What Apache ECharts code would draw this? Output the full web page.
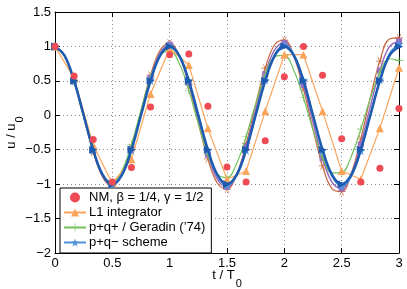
<!DOCTYPE html>
<html>
<head>
<meta charset="utf-8">
<script src="https://cdn.jsdelivr.net/npm/echarts@6/dist/echarts.min.js"></script>
<style>
html,body{margin:0;padding:0;background:#fff;}
#chart{width:407px;height:289px;}
</style>
</head>
<body>
<div id="chart"></div>
<script>
// time at every step (h = T0/6)
var tStep = [0,0.1667,0.3333,0.5,0.6667,0.8333,1,1.1667,1.3333,1.5,1.6667,1.8333,2,2.1667,2.3333,2.5,2.6667,2.8333,3];
// time at half steps, for the continuous curves
var tFine = [0,0.0833,0.1667,0.25,0.3333,0.4167,0.5,0.5833,0.6667,0.75,0.8333,0.9167,1,1.0833,1.1667,1.25,1.3333,1.4167,1.5,1.5833,1.6667,1.75,1.8333,1.9167,2,2.0833,2.1667,2.25,2.3333,2.4167,2.5,2.5833,2.6667,2.75,2.8333,2.9167,3];

var xTicks = [0,0.5,1,1.5,2,2.5,3];
var yTicks = [-2,-1.5,-1,-0.5,0,0.5,1,1.5];

// NM, beta=1/4, gamma=1/2 (step values)
var nmValues = [1,0.57,-0.35,-0.97,-0.76,0.12,0.88,0.89,0.13,-0.75,-0.97,-0.37,0.56,1.0,0.58,-0.34,-0.97,-0.77,0.10];
// L1 integrator (step values)
var l1Values = [1,0.54,-0.43,-0.99,-0.64,0.31,0.97,0.73,-0.19,-0.93,-0.81,0.06,0.88,0.88,0.06,-0.81,-0.93,-0.19,0.69];
// p+q+ / Geradin ('74) (half-step values)
var geradinValues = [1,0.858,0.48,-0.026,-0.521,-0.867,-0.971,-0.806,-0.421,0.077,0.549,0.865,0.94,0.755,0.364,-0.124,-0.573,-0.859,-0.906,-0.703,-0.308,0.168,0.593,0.85,0.87,0.65,0.254,-0.209,-0.609,-0.837,-0.832,-0.598,-0.202,0.246,0.621,0.821,0.793];
// p+q- scheme (half-step values)
var pqMinusValues = [1,0.867,0.501,0,-0.502,-0.87,-1.006,-0.872,-0.504,0,0.505,0.876,1.012,0.877,0.507,0,-0.508,-0.881,-1.018,-0.882,-0.51,0,0.511,0.886,1.024,0.888,0.513,0,-0.514,-0.891,-1.03,-0.893,-0.516,0,0.517,0.895,1.036];
// reference (dark blue, thick)
var refValues = [1,0.866,0.5,0,-0.5,-0.866,-1,-0.866,-0.5,0,0.5,0.866,1,0.866,0.5,0,-0.5,-0.866,-1,-0.866,-0.5,0,0.5,0.866,1,0.866,0.5,0,-0.5,-0.866,-1,-0.866,-0.5,0,0.5,0.866,1];
// purple curve
var purpleValues = [1,0.866,0.496,-0.011,-0.517,-0.885,-1.013,-0.866,-0.483,0.034,0.543,0.907,1.026,0.866,0.469,-0.057,-0.57,-0.93,-1.038,-0.865,-0.455,0.081,0.596,0.952,1.05,0.863,0.44,-0.105,-0.623,-0.974,-1.061,-0.86,-0.424,0.13,0.65,0.996,1.072];
// brown curve
var brownValues = [1,0.866,0.493,-0.021,-0.533,-0.902,-1.026,-0.867,-0.468,0.064,0.583,0.945,1.05,0.865,0.441,-0.109,-0.633,-0.987,-1.071,-0.861,-0.411,0.156,0.684,1.028,1.091,0.854,0.379,-0.205,-0.736,-1.069,-1.109,-0.844,-0.344,0.255,0.788,1.108,1.124];

var FONT = 'Liberation Sans';
var C = {
  red:'#ef4b55', orange:'#fba55a', green:'#72c25c', lblue:'#4f93dc',
  dblue:'#1d5bb0', purple:'#9c6cbf', brown:'#c8653f'
};
var starPath = 'path://M10,0 L12.35,6.76 L19.51,6.91 L13.80,11.24 L15.88,18.09 L10,14 L4.12,18.09 L6.20,11.24 L0.49,6.91 L7.65,6.76 Z';
var plusPath = 'path://M9.2,0 L10.8,0 L10.8,20 L9.2,20 Z M0,9.2 L20,9.2 L20,10.8 L0,10.8 Z';
var asterPath = 'path://M0,9.2 L20,9.2 L20,10.8 L0,10.8 Z M4.3,1.7 L5.7,0.9 L15.7,18.3 L14.3,19.1 Z M14.3,0.9 L15.7,1.7 L5.7,19.1 L4.3,18.3 Z';

function stepData(vals){ return tStep.map(function(t,i){ return [t, vals[i]]; }); }
function fineData(vals){
  return tFine.map(function(t,i){
    return (i % 2 === 0) ? {value:[t, vals[i]]} : {value:[t, vals[i]], symbol:'none'};
  });
}

var chart = echarts.init(document.getElementById('chart'), null, {renderer:'canvas'});

var gridLine = {show:true, lineStyle:{color:'#8a8a8a', type:[1,3], width:1}};
var nameRich = {
  a:{fontSize:13, fontFamily:FONT, color:'#000', verticalAlign:'top', lineHeight:14},
  b:{fontSize:11, fontFamily:FONT, color:'#000', verticalAlign:'middle', lineHeight:30, padding:[0,0,0,1]}
};

var option = {
  animation:false,
  backgroundColor:'#fff',
  textStyle:{fontFamily:FONT},
  grid:{left:55, right:8, top:12, bottom:36, containLabel:false, outerBoundsMode:'none'},
  xAxis:[{
    type:'value', min:0, max:3, interval:0.5,
    axisLine:{show:true, onZero:false, lineStyle:{color:'#000', width:1}},
    axisTick:{show:true, inside:true, length:5, lineStyle:{color:'#000'}},
    axisLabel:{color:'#000', fontSize:13, fontFamily:FONT, margin:4,
      formatter:function(v){ return xTicks.indexOf(v)>=0 ? String(v) : ''; }},
    splitLine:gridLine,
    name:'{a|t / T}{b|0}', nameLocation:'middle', nameGap:16, nameMoveOverlap:false,
    nameTextStyle:{color:'#000', fontFamily:FONT, rich:nameRich}
  },{
    type:'value', position:'top', min:0, max:3, interval:0.5,
    axisLine:{show:true, onZero:false, lineStyle:{color:'#000', width:1}},
    axisTick:{show:true, inside:true, length:5, lineStyle:{color:'#000'}},
    axisLabel:{show:false}, splitLine:{show:false}
  }],
  yAxis:[{
    type:'value', min:-2, max:1.5, interval:0.5,
    axisLine:{show:true, onZero:false, lineStyle:{color:'#000', width:1}},
    axisTick:{show:true, inside:true, length:5, lineStyle:{color:'#000'}},
    axisLabel:{color:'#000', fontSize:13, fontFamily:FONT, margin:4,
      formatter:function(v){ return yTicks.indexOf(v)>=0 ? String(v).replace('-', '\u2212') : ''; }},
    splitLine:gridLine,
    name:'{a|u / u}{b|0}', nameLocation:'middle', nameGap:20, nameMoveOverlap:false,
    nameTextStyle:{color:'#000', fontFamily:FONT, rich:nameRich}
  },{
    type:'value', position:'right', min:-2, max:1.5, interval:0.5,
    axisLine:{show:true, onZero:false, lineStyle:{color:'#000', width:1}},
    axisTick:{show:true, inside:true, length:5, lineStyle:{color:'#000'}},
    axisLabel:{show:false}, splitLine:{show:false}
  }],
  legend:{
    orient:'vertical', left:60, top:188,
    backgroundColor:'#fff', borderColor:'#000', borderWidth:1, borderRadius:0,
    padding:[3,6,4,3], itemGap:2, itemWidth:22, itemHeight:10,
    textStyle:{fontFamily:FONT, fontSize:13, color:'#000', padding:[0,0,0,-2]},
    data:[
      {name:'NM, \u03b2 = 1/4, \u03b3 = 1/2', icon:'circle', lineStyle:{color:C.red, width:1.2, opacity:1}},
      {name:'L1 integrator'},
      {name:'p+q+ / Geradin (\u201974)'},
      {name:'p+q\u2212 scheme'}
    ]
  },
  series:[
    {name:'brown', type:'line', data:fineData(brownValues), smooth:0.4, showAllSymbol:true,
      symbol:asterPath, symbolSize:8, lineStyle:{color:C.brown, width:1.2}, itemStyle:{color:C.brown}, z:2},
    {name:'purple', type:'line', data:fineData(purpleValues), smooth:0.4, showAllSymbol:true,
      symbol:'rect', symbolSize:6, lineStyle:{color:C.purple, width:1.5}, itemStyle:{color:C.purple}, z:3},
    {name:'p+q+ / Geradin (\u201974)', type:'line', data:fineData(geradinValues), smooth:0.4, showAllSymbol:true,
      symbol:plusPath, symbolSize:8, lineStyle:{color:C.green, width:1.2}, itemStyle:{color:C.green}, z:4},
    {name:'L1 integrator', type:'line', data:stepData(l1Values), smooth:false, showAllSymbol:true,
      symbol:'triangle', symbolSize:8, lineStyle:{color:C.orange, width:1.2}, itemStyle:{color:C.orange}, z:5},
    {name:'p+q\u2212 scheme', type:'line', data:fineData(pqMinusValues), smooth:0.4, showAllSymbol:true,
      symbol:starPath, symbolSize:9, lineStyle:{color:C.lblue, width:1.5}, itemStyle:{color:C.lblue}, z:6},
    {name:'ref', type:'line', data:fineData(refValues), smooth:0.4, showAllSymbol:true,
      symbol:'triangle', symbolRotate:-90, symbolSize:8, lineStyle:{color:C.dblue, width:2.5}, itemStyle:{color:C.dblue}, z:7},
    {name:'NM, \u03b2 = 1/4, \u03b3 = 1/2', type:'line', data:stepData(nmValues), showAllSymbol:true,
      symbol:'circle', symbolSize:7, lineStyle:{color:C.red, width:1.2, opacity:0}, itemStyle:{color:C.red}, z:8}
  ]
};
chart.setOption(option);
</script>
</body>
</html>
